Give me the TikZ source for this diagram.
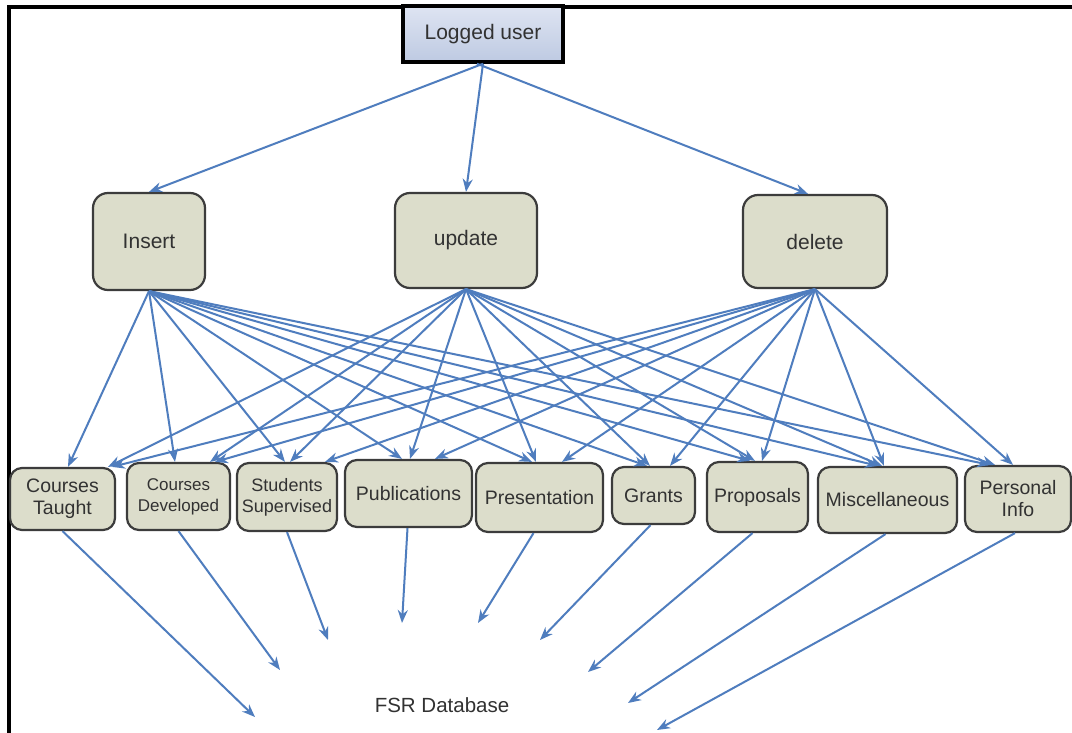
\documentclass[tikz,border=0pt]{standalone}
\usepackage{fontspec}
\setmainfont{Liberation Sans}
\usetikzlibrary{arrows.meta}
\definecolor{boxfill}{RGB}{220,221,203}
\definecolor{boxline}{RGB}{60,60,60}
\definecolor{arr}{RGB}{79,125,190}
\definecolor{txt}{RGB}{50,50,50}
\definecolor{topA}{RGB}{222,228,242}
\definecolor{topB}{RGB}{190,202,226}
\begin{document}
\begin{tikzpicture}[x=1pt,y=-1pt,
  midbox/.style={draw=boxline,line width=2.2pt,fill=boxfill,rounded corners=15pt,inner sep=0pt,text=txt,font=\fontsize{21}{24}\selectfont,align=center},
  botbox/.style={draw=boxline,line width=2.2pt,fill=boxfill,rounded corners=12pt,inner sep=0pt,text=txt,font=\fontsize{19.5}{22}\selectfont,align=center},
  topbox/.style={draw=black,line width=3.5pt,top color=topA,bottom color=topB,inner sep=0pt,text=txt,font=\fontsize{21}{24}\selectfont},
  conn/.style={draw=arr,line width=2pt,-{Stealth[length=13pt,width=10pt]}}]
\useasboundingbox (0,0) rectangle (1072,733);
\fill[white] (0,0) rectangle (1072,733);
% frame
\draw[line width=3.5pt,black] (9,733) -- (9,7) -- (1072,7);
% nodes
\node[topbox,minimum width=160pt,minimum height=56pt] (lu) at (483,34) {Logged user};
\node[midbox,minimum width=112pt,minimum height=97pt] (ins) at (149,241.5) {Insert};
\node[midbox,minimum width=142pt,minimum height=95pt] (upd) at (466,240.5) {update};
\node[midbox,minimum width=144pt,minimum height=93pt] (del) at (815,241.5) {delete};

\node[botbox,minimum width=105pt,minimum height=62pt] (ct) at (62.5,499) {Courses\\Taught};
\node[botbox,minimum width=103pt,minimum height=67pt,font=\fontsize{17}{21}\selectfont] (cd) at (178.5,496.5) {Courses\\Developed};
\node[botbox,minimum width=100pt,minimum height=68pt,font=\fontsize{18}{21}\selectfont] (ss) at (287,497) {Students\\Supervised};
\node[botbox,minimum width=127pt,minimum height=67pt] (pub) at (408.5,493.5) {Publications};
\node[botbox,minimum width=127pt,minimum height=69pt] (pres) at (539.5,497.5) {Presentation};
\node[botbox,minimum width=83pt,minimum height=57pt] (gr) at (653.5,495.5) {Grants};
\node[botbox,minimum width=101pt,minimum height=70pt] (prop) at (757.5,497) {Proposals};
\node[botbox,minimum width=139pt,minimum height=66pt] (misc) at (887.5,500) {Miscellaneous};
\node[botbox,minimum width=106pt,minimum height=66pt] (pi) at (1018,499) {Personal\\Info};

\node[text=txt,font=\fontsize{20.5}{24}\selectfont] (db) at (442,705) {FSR Database};

% top arrows
\draw[conn] (lu.south) -- (ins.north);
\draw[conn] (lu.south) -- (upd.north);
\draw[conn] ([xshift=-6pt]lu.south) -- ([xshift=-7pt]del.north);

% insert arrows
\draw[conn] (ins.south) -- ([xshift=5.5pt]ct.north);
\draw[conn] (ins.south) -- ([xshift=-3.5pt]cd.north);
\draw[conn] (ins.south) -- ([xshift=-2pt]ss.north);
\draw[conn] (ins.south) -- ([xshift=-6.5pt]pub.north);
\draw[conn] (ins.south) -- ([xshift=-7.5pt]pres.north);
\draw[conn] (ins.south) -- ([xshift=-6.5pt]gr.north);
\draw[conn] (ins.south) -- ([xshift=-7.5pt]prop.north);
\draw[conn] (ins.south) -- ([xshift=-9.5pt]misc.north);
\draw[conn] (ins.south) -- ([xshift=-28pt]pi.north);
% update arrows
\draw[conn] (upd.south) -- ([xshift=45.5pt]ct.north);
\draw[conn] (upd.south) -- ([xshift=31.5pt]cd.north);
\draw[conn] (upd.south) -- ([xshift=3pt]ss.north);
\draw[conn] (upd.south) -- ([xshift=1.5pt]pub.north);
\draw[conn] (upd.south) -- ([xshift=-3.5pt]pres.north);
\draw[conn] (upd.south) -- ([xshift=-3.5pt]gr.north);
\draw[conn] (upd.south) -- ([xshift=-2.5pt]prop.north);
\draw[conn] (upd.south) -- ([xshift=-5.5pt]misc.north);
\draw[conn] (upd.south) -- ([xshift=-23pt]pi.north);
% delete arrows
\draw[conn] (del.south) -- ([xshift=49.5pt]ct.north);
\draw[conn] (del.south) -- ([xshift=36.5pt]cd.north);
\draw[conn] (del.south) -- ([xshift=38pt]ss.north);
\draw[conn] (del.south) -- ([xshift=26.5pt]pub.north);
\draw[conn] (del.south) -- ([xshift=22.5pt]pres.north);
\draw[conn] (del.south) -- ([xshift=16.5pt]gr.north);
\draw[conn] (del.south) -- ([xshift=4.5pt]prop.north);
\draw[conn] (del.south) -- ([xshift=-3.5pt]misc.north);
\draw[conn] (del.south) -- ([xshift=-5pt]pi.north);

% arrows to database
\coordinate (e1) at (255,717);
\coordinate (e2) at (280,670);
\coordinate (e3) at (328,640);
\coordinate (e4) at (402,623);
\coordinate (e5) at (478,623);
\coordinate (e6) at (540,640);
\coordinate (e7) at (588,672);
\coordinate (e8) at (628,703);
\coordinate (e9) at (657,730);
\draw[conn] (ct.south) -- (e1);
\draw[conn] (cd.south) -- (e2);
\draw[conn] (ss.south) -- (e3);
\draw[conn] ([xshift=-1pt]pub.south) -- (e4);
\draw[conn] ([xshift=-6pt]pres.south) -- (e5);
\draw[conn] ([xshift=-3pt]gr.south) -- (e6);
\draw[conn] ([xshift=-5pt]prop.south) -- (e7);
\draw[conn] ([xshift=-2pt]misc.south) -- (e8);
\draw[conn] ([xshift=-3pt]pi.south) -- (e9);
\end{tikzpicture}
\end{document}
